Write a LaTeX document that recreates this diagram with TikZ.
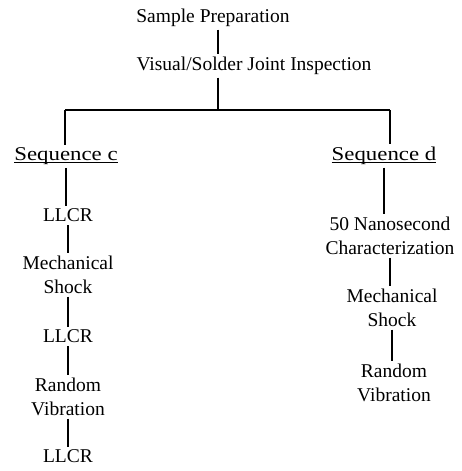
\documentclass[tikz,border=0pt]{standalone}
\usepackage{graphicx}
\usepackage{fontspec}
\setmainfont{Liberation Serif}
\newcommand{\seqtitle}[1]{\setbox0\hbox{\scalebox{1.17}[1]{#1}}\rlap{\rule[-2.3pt]{\wd0}{0.9pt}}\box0}

\begin{document}
\begin{tikzpicture}[x=1pt,y=-1pt,every node/.style={black,anchor=north,align=center,inner xsep=0pt,inner ysep=3pt,font=\fontsize{19.5}{24}\selectfont}]
	\useasboundingbox (0,0) rectangle (462,471);

	\node (prep) at (213,5.5) {Sample Preparation};
	\node (vis) at (254,53.5) {Visual/Solder Joint Inspection};

	\node (seqc) at (66,144.5) {\seqtitle{Sequence c}};
	\node (llcr1) at (68,205.5) {LLCR};
	\node (mshock1) at (68,252.5) {Mechanical\\Shock};
	\node (llcr2) at (68,326.5) {LLCR};
	\node (rvib1) at (68,374.5) {Random\\Vibration};
	\node (llcr3) at (68,446.5) {LLCR};

	\node (seqd) at (384,143.5) {\seqtitle{Sequence d}};
	\node (nano) at (390,213.5) {50 Nanosecond\\Characterization};
	\node (mshock2) at (392,285.5) {Mechanical\\Shock};
	\node (rvib2) at (394,360.5) {Random\\Vibration};

	\coordinate (split) at (218,110);
	\coordinate (bl) at (65,110);
	\coordinate (br) at (390,110);

	\begin{scope}[line width=2.4pt]
		\draw (prep.south -| split) -- (vis.north -| split);
		\draw (vis.south -| split) -- (split);
		\draw (bl) -- (bl |- seqc.north);
		\draw (br) -- (br |- seqd.north);
		\foreach \a/\b in {seqc/llcr1,llcr1/mshock1,mshock1/llcr2,llcr2/rvib1,rvib1/llcr3,seqd/nano,nano/mshock2,mshock2/rvib2}
			\draw (\a.south) -- (\a.south |- \b.north);
	\end{scope}
	\draw[line width=1.3pt] (bl) -- (br);
\end{tikzpicture}
\end{document}
